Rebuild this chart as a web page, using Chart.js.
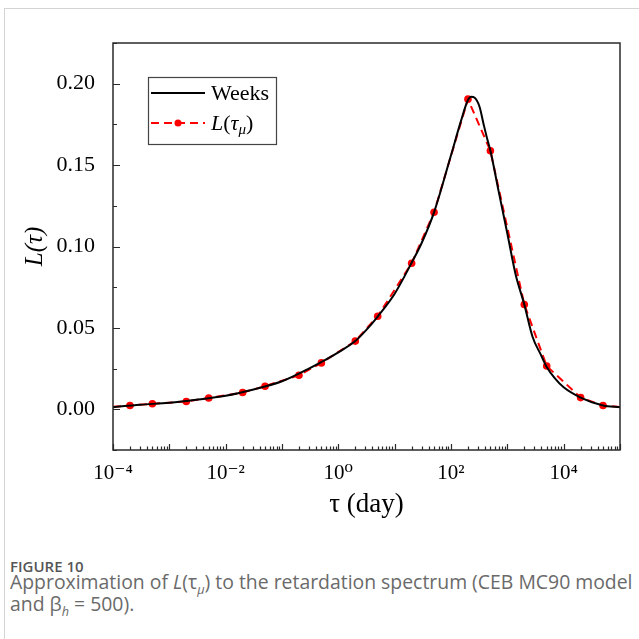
<!DOCTYPE html>
<html>
<head>
<meta charset="utf-8">
<script src="https://cdn.jsdelivr.net/npm/chart.js@4.4.0/dist/chart.umd.min.js"></script>
<style>
  body { margin: 0; background: #fff; }
  #frame { position: absolute; left: 4px; top: 8px; width: 700px; height: 700px;
           border-left: 1px solid #d4d4d4; border-top: 1px solid #d4d4d4; }
  #wrap { position: absolute; left: 0; top: 0; width: 639px; height: 540px; }
  .cap { position: absolute; left: 10px; white-space: nowrap; font-family: "Open Sans", sans-serif; }
  #figno { top: 556px; font-size: 15px; font-weight: 600; color: #555; }
  #caption { top: 571px; font-size: 19.4px; line-height: 22px; color: #6a6a6a; }
  #caption sub { font-size: 65%; line-height: 0; }
</style>
</head>
<body>
<div id="frame"></div>
<div id="wrap"><canvas id="myChart" width="639" height="540"></canvas></div>
<div class="cap" id="figno">FIGURE 10</div>
<div class="cap" id="caption">Approximation of <i>L</i>(τ<sub><i>μ</i></sub>) to the retardation spectrum (CEB MC90 model<br>and β<sub><i>h</i></sub> = 500).</div>
<script>
// Weeks retardation spectrum (solid line)
const weeksTau = [1e-4, 3e-4, 1e-3, 3e-3, 1e-2, 3e-2, 0.1, 0.3, 1, 2, 3, 5, 10, 20, 30, 50,
                  100, 150, 200, 230, 260, 320, 380, 440, 500, 700, 1000, 1400, 2000, 2800,
                  4000, 5000, 7000, 1e4, 2e4, 5e4, 1e5];
const weeksL = [0.0013, 0.0028, 0.0040, 0.0058, 0.0083, 0.0120, 0.0172, 0.0250, 0.0350, 0.0419,
                0.0480, 0.0570, 0.0710, 0.0900, 0.1020, 0.1210, 0.1560, 0.1770, 0.1900, 0.1920,
                0.1915, 0.1860, 0.1750, 0.1660, 0.1590, 0.1340, 0.1080, 0.0830, 0.0644, 0.0446,
                0.0330, 0.0260, 0.0190, 0.0135, 0.0072, 0.0023, 0.0013];

// L(tau_mu) approximation (dashed line with dots); first and last are the line ends at the frame
const approxTau = [1e-4, 2e-4, 5e-4, 2e-3, 5e-3, 2e-2, 5e-2, 0.2, 0.5, 2, 5, 20, 50,
                   200, 500, 2000, 5000, 2e4, 5e4, 1e5];
const approxL = [0.0016, 0.0023, 0.0034, 0.0048, 0.0069, 0.0103, 0.0142, 0.0209, 0.0285, 0.0419,
                 0.0572, 0.0897, 0.1210, 0.1905, 0.1588, 0.0644, 0.0266, 0.0072, 0.0023, 0.0014];

const xTickValues = [1e-4, 1e-2, 1, 1e2, 1e4];
const xTickLabels = ["10⁻⁴", "10⁻²", "10⁰", "10²", "10⁴"];
const yTickValues = [0, 0.05, 0.10, 0.15, 0.20];
const yTickLabels = ["0.00", "0.05", "0.10", "0.15", "0.20"];

const serif = "'Liberation Serif', 'DejaVu Serif', serif";

// box round the plot, inward ticks with minor ticks
const framePlugin = {
    id: "frame",
    afterDatasetsDraw(chart) {
        const { ctx, chartArea: a, scales: { x, y } } = chart;
        ctx.save();
        ctx.strokeStyle = "#2a2a2a";
        ctx.lineWidth = 1.2;
        ctx.beginPath();
        for (let d = -4; d <= 5; d++) {
            for (let k = 1; k <= 9; k++) {
                const v = k * Math.pow(10, d);
                if (v < x.min * 0.999 || v > x.max * 1.001) continue;
                const px = Math.round(x.getPixelForValue(v)) + 0.5;
                const len = k === 1 ? 6 : 3.5;
                ctx.moveTo(px, a.bottom);
                ctx.lineTo(px, a.bottom - len);
            }
        }
        for (let i = -1; i <= 9; i++) {
            const v = i * 0.025;
            if (v < y.min - 1e-9 || v > y.max + 1e-9) continue;
            const py = Math.round(y.getPixelForValue(v)) + 0.5;
            const len = i % 2 === 0 ? 7 : 4;
            ctx.moveTo(a.left, py);
            ctx.lineTo(a.left + len, py);
        }
        ctx.stroke();
        ctx.lineWidth = 1.5;
        ctx.strokeRect(a.left, a.top, a.right - a.left, a.bottom - a.top);
        ctx.restore();
    }
};

// legend box inside the plot
const legendPlugin = {
    id: "boxLegend",
    afterDraw(chart) {
        const { ctx, chartArea: a } = chart;
        const ds = chart.data.datasets;
        const bx = a.left + 35, by = a.top + 34, bw = 128, bh = 67;
        ctx.save();
        ctx.fillStyle = "#fff";
        ctx.fillRect(bx, by, bw, bh);
        ctx.strokeStyle = "#444";
        ctx.lineWidth = 1.2;
        ctx.strokeRect(bx + 0.5, by + 0.5, bw, bh);

        const x0 = bx + 3, x1 = bx + 57;
        const r1 = by + 16, r2 = by + 46;
        ctx.strokeStyle = ds[0].borderColor;
        ctx.lineWidth = ds[0].borderWidth;
        ctx.beginPath(); ctx.moveTo(x0, r1); ctx.lineTo(x1, r1); ctx.stroke();

        ctx.strokeStyle = ds[1].borderColor;
        ctx.lineWidth = ds[1].borderWidth;
        ctx.setLineDash(ds[1].borderDash);
        ctx.beginPath(); ctx.moveTo(x0, r2); ctx.lineTo(x1, r2); ctx.stroke();
        ctx.setLineDash([]);
        ctx.fillStyle = ds[1].pointBackgroundColor;
        ctx.beginPath(); ctx.arc((x0 + x1) / 2, r2, 3.5, 0, Math.PI * 2); ctx.fill();

        ctx.fillStyle = "#000";
        ctx.textBaseline = "middle";
        ctx.textAlign = "left";
        ctx.font = "22px " + serif;
        ctx.fillText(ds[0].label, x1 + 6, r1 + 1);

        let tx = x1 + 6;
        const part = (t, f, dy) => { ctx.font = f; ctx.fillText(t, tx, r2 + 1 + dy); tx += ctx.measureText(t).width; };
        part("L", "italic 22px " + serif, 0);
        part("(", "22px " + serif, 0);
        part("τ", "italic 22px " + serif, 0);
        part("μ", "italic 15px " + serif, 6);
        part(")", "22px " + serif, 0);
        ctx.restore();
    }
};

const ctx = document.getElementById("myChart").getContext("2d");
const myChart = new Chart(ctx, {
    type: "line",
    data: {
        datasets: [
            {
                label: "Weeks",
                data: weeksTau.map((t, i) => ({ x: t, y: weeksL[i] })),
                borderColor: "#000000",
                borderWidth: 2,
                pointRadius: 0,
                cubicInterpolationMode: "monotone"
            },
            {
                label: "L(τμ)",
                data: approxTau.map((t, i) => ({ x: t, y: approxL[i] })),
                borderColor: "#ff0000",
                borderWidth: 2,
                borderDash: [8, 5],
                pointRadius: (c) => (c.dataIndex === 0 || c.dataIndex === approxTau.length - 1 ? 0 : 3.8),
                pointBackgroundColor: "#ff0000",
                pointBorderWidth: 0,
                tension: 0
            }
        ]
    },
    options: {
        responsive: false,
        devicePixelRatio: 1,
        animation: false,
        layout: { padding: { left: 16, top: 43, right: 19, bottom: 15 } },
        plugins: { legend: { display: false }, tooltip: { enabled: false } },
        scales: {
            x: {
                type: "logarithmic",
                min: 1e-4,
                max: 1e5,
                grid: { display: false },
                border: { display: false },
                afterBuildTicks: (s) => { s.ticks = xTickValues.map((v) => ({ value: v })); },
                afterFit: (s) => { s.height = 75; },
                ticks: {
                    autoSkip: false,
                    maxRotation: 0,
                    padding: 3,
                    color: "#000",
                    font: { family: serif, size: 21 },
                    callback: (v, i) => xTickLabels[i]
                },
                title: {
                    display: true,
                    text: "τ (day)",
                    color: "#000",
                    font: { family: serif, size: 27 },
                    padding: 4
                }
            },
            y: {
                min: -0.025,
                max: 0.225,
                grid: { display: false },
                border: { display: false },
                afterBuildTicks: (s) => { s.ticks = yTickValues.map((v) => ({ value: v })); },
                afterFit: (s) => { s.width = 97; },
                ticks: {
                    padding: 10,
                    color: "#000",
                    font: { family: serif, size: 22 },
                    callback: (v, i) => yTickLabels[i]
                },
                title: {
                    display: true,
                    text: "L(τ)",
                    color: "#000",
                    font: { family: serif, size: 25, style: "italic" },
                    padding: 4
                }
            }
        }
    },
    plugins: [framePlugin, legendPlugin]
});
</script>
</body>
</html>
